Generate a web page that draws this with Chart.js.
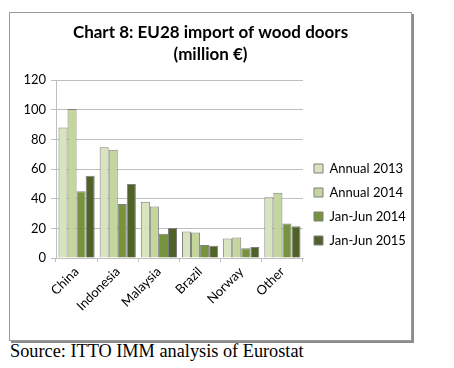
<!DOCTYPE html>
<html>
<head>
<meta charset="utf-8">
<script src="https://cdn.jsdelivr.net/npm/chart.js@4"></script>
<style>
  body { margin: 0; background: #fff; }
  #frame {
    position: absolute; left: 9px; top: 12px; width: 401px; height: 327px;
    border: 1px solid #9a9a9a; box-shadow: 2px 2px 0 #8c8c8c;
  }
  #source {
    position: absolute; left: 10px; top: 341px;
    font-family: "Liberation Serif", serif; font-size: 18.3px; color: #000;
  }
</style>
</head>
<body>
<div id="frame"><canvas id="myChart" width="401" height="327"></canvas></div>
<div id="source">Source: ITTO IMM analysis of Eurostat</div>
<script>
var countries = ['China', 'Indonesia', 'Malaysia', 'Brazil', 'Norway', 'Other'];
var annual2013 = [88, 74.7, 38, 17.9, 13.2, 41];
var annual2014 = [100.5, 73, 34.7, 17.2, 13.9, 44];
var janJun2014 = [45, 36.4, 16.3, 8.7, 6.5, 23.3];
var janJun2015 = [55.5, 50, 20.3, 8.3, 7.4, 21.5];
var yTicks = [0, 20, 40, 60, 80, 100, 120];

var font = 'Lato, "Open Sans", sans-serif';

// legend sits in a fixed-width column on the right
var legendWidth = {
    id: 'legendWidth',
    beforeLayout: function (chart) {
        var lg = chart.legend;
        if (lg && !lg._wrapped) {
            var fit = lg.fit;
            lg.fit = function () {
                fit.call(this);
                this.width = 108;
            };
            lg._wrapped = true;
        }
    }
};

var ctx = document.getElementById('myChart').getContext('2d');
var myChart = new Chart(ctx, {
    type: 'bar',
    data: {
        labels: countries,
        datasets: [
            { label: 'Annual 2013', data: annual2013, backgroundColor: '#d7e4bd' },
            { label: 'Annual 2014', data: annual2014, backgroundColor: '#c3d69b' },
            { label: 'Jan-Jun 2014', data: janJun2014, backgroundColor: '#77933c' },
            { label: 'Jan-Jun 2015', data: janJun2015, backgroundColor: '#4f6228' }
        ]
    },
    plugins: [legendWidth],
    options: {
        responsive: false,
        animation: false,
        datasets: {
            bar: {
                borderColor: '#7f7f7f',
                borderWidth: 1,
                categoryPercentage: 0.88,
                barPercentage: 1
            }
        },
        layout: { padding: { left: 0, right: 0, top: 4, bottom: 0 } },
        plugins: {
            title: {
                display: true,
                text: ['Chart 8: EU28 import of wood doors', '(million \u20ac)'],
                color: '#000',
                font: { family: font, size: 17, weight: 'bold', lineHeight: 1.3 },
                padding: { top: 4, bottom: 15 }
            },
            legend: {
                position: 'right',
                align: 'end',
                fullSize: false,
                labels: {
                    color: '#000',
                    font: { family: font, size: 13 },
                    boxWidth: 9,
                    boxHeight: 9,
                    padding: 11
                }
            },
            tooltip: { enabled: false }
        },
        scales: {
            x: {
                grid: { display: true, drawOnChartArea: false, offset: true, color: '#bfbfbf', tickLength: 4 },
                border: { color: '#bfbfbf' },
                ticks: {
                    color: '#000',
                    font: { family: font, size: 13 },
                    minRotation: 45,
                    maxRotation: 45,
                    padding: 2
                },
                afterFit: function (scale) { scale.height = 82; }
            },
            y: {
                min: 0,
                max: 120,
                afterBuildTicks: function (scale) {
                    scale.ticks = yTicks.map(function (v) { return { value: v }; });
                },
                grid: { color: '#bfbfbf', tickLength: 5 },
                border: { color: '#bfbfbf' },
                ticks: {
                    color: '#000',
                    font: { family: font, size: 13 },
                    padding: 5
                },
                afterFit: function (scale) { scale.width = 46; }
            }
        }
    }
});
</script>
</body>
</html>
